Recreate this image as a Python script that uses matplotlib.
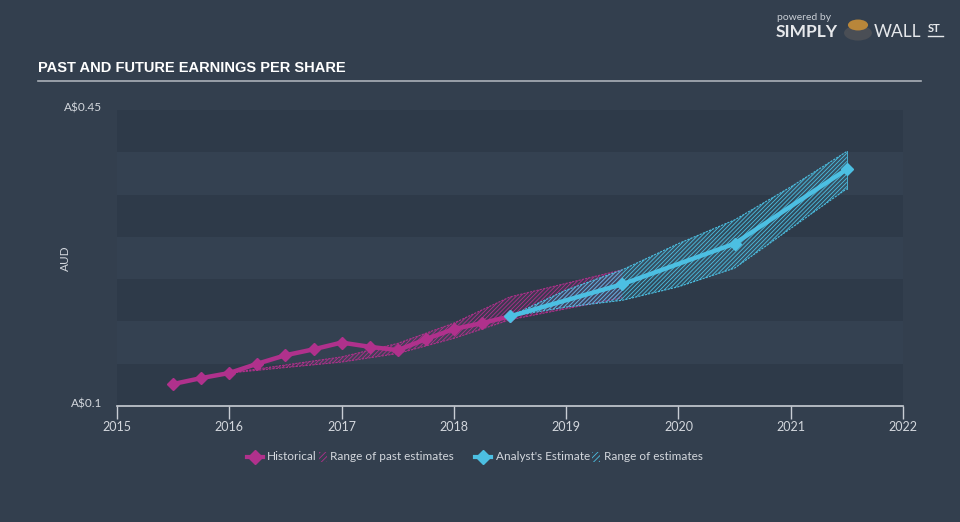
import matplotlib
matplotlib.use('Agg')
import matplotlib.pyplot as plt
from matplotlib.lines import Line2D
from matplotlib.patches import Rectangle, Circle

# historical EPS (A$)
hist_x = [2015.5, 2015.75, 2016.0, 2016.25, 2016.5, 2016.75, 2017.0, 2017.25,
          2017.5, 2017.75, 2018.0, 2018.25, 2018.5]
hist_y = [0.126, 0.133, 0.139, 0.150, 0.160, 0.167, 0.175, 0.170,
          0.166, 0.179, 0.191, 0.198, 0.206]

# range of past estimates
past_x = [2016.0, 2017.0, 2017.5, 2018.0, 2018.5, 2019.0, 2019.5]
past_lo = [0.139, 0.152, 0.162, 0.180, 0.202, 0.215, 0.228]
past_hi = [0.139, 0.158, 0.174, 0.198, 0.229, 0.245, 0.261]

# analyst estimate
est_x = [2018.5, 2019.5, 2020.5, 2021.5]
est_y = [0.206, 0.244, 0.292, 0.380]

# range of estimates
rng_x = [2018.5, 2019.0, 2019.5, 2020.0, 2020.5, 2021.0, 2021.5]
rng_lo = [0.206, 0.217, 0.225, 0.241, 0.263, 0.310, 0.357]
rng_hi = [0.206, 0.237, 0.261, 0.292, 0.320, 0.359, 0.401]

years = [2015, 2016, 2017, 2018, 2019, 2020, 2021, 2022]

BG = '#333f4e'
MAG = '#b0318c'
CYAN = '#4cbfe2'
TXT = '#d3d7dd'
SANS = ['Lato', 'DejaVu Sans']

plt.rcParams['font.family'] = SANS
plt.rcParams['hatch.linewidth'] = 0.6

fig = plt.figure(figsize=(9.6, 5.22), dpi=100, facecolor=BG)
ax = fig.add_axes([117 / 960, 116 / 522, 786 / 960, 296 / 522])
ax.set_facecolor('#344151')
ax.set_xlim(2015, 2022)
ax.set_ylim(0.1, 0.45)

# horizontal bands
for i in range(7):
    if i % 2 == 0:
        ax.axhspan(0.1 + i * 0.05, 0.15 + i * 0.05, color='#2e3a49', lw=0, zorder=0)

# past estimate band
ax.fill_between(past_x, past_lo, past_hi, facecolor=MAG, alpha=0.12, lw=0, zorder=1)
ax.fill_between(past_x, past_lo, past_hi, facecolor='none', edgecolor=MAG,
                hatch='////////', lw=0, zorder=1)
ax.plot(past_x, past_lo, color=MAG, lw=0.8, ls=(0, (2, 1)), zorder=1)
ax.plot(past_x, past_hi, color=MAG, lw=0.8, ls=(0, (2, 1)), zorder=1)

# estimate band
ax.fill_between(rng_x, rng_lo, rng_hi, facecolor=CYAN, alpha=0.12, lw=0, zorder=2)
ax.fill_between(rng_x, rng_lo, rng_hi, facecolor='none', edgecolor=CYAN,
                hatch='////////', lw=0, zorder=2)
ax.plot(rng_x, rng_lo, color=CYAN, lw=0.8, ls=(0, (2, 1)), zorder=2)
ax.plot(rng_x, rng_hi, color=CYAN, lw=0.8, ls=(0, (2, 1)), zorder=2)
ax.plot([rng_x[-1], rng_x[-1]], [rng_lo[-1], rng_hi[-1]], color=CYAN, lw=0.6, zorder=2)

ax.plot(hist_x, hist_y, color=MAG, lw=3.2, marker='D', ms=6.5, zorder=4)
ax.plot(est_x, est_y, color=CYAN, lw=3.2, marker='D', ms=6.5, zorder=5)

for s in ['top', 'right', 'left']:
    ax.spines[s].set_visible(False)
ax.spines['bottom'].set_color('#c8cdd4')
ax.spines['bottom'].set_linewidth(1.2)
ax.set_yticks([])
ax.set_xticks(years)
ax.set_xticklabels([str(y) for y in years], fontsize=9, color=TXT)
ax.tick_params(axis='x', length=9, width=1, color='#c8cdd4', pad=2)

# y labels
fig.text(102 / 960, 1 - 108 / 522, 'A$0.45', ha='right', va='center', fontsize=8.5, color=TXT)
fig.text(102 / 960, 1 - 404 / 522, 'A$0.1', ha='right', va='center', fontsize=8.5, color=TXT)
fig.text(65 / 960, 1 - 258 / 522, 'AUD', rotation=90, ha='center', va='center', fontsize=8.5, color=TXT)

# title
fig.text(38 / 960, 1 - 68 / 522, 'PAST AND FUTURE EARNINGS PER SHARE',
         family=['Liberation Sans', 'DejaVu Sans'], fontweight='bold', fontsize=10.5,
         color='white', va='center')
fig.add_artist(Line2D([38 / 960, 921 / 960], [1 - 81 / 522, 1 - 81 / 522],
                      color='#aab0b8', lw=1.2))

# logo
fig.text(777 / 960, 1 - 17 / 522, 'powered by', fontsize=7.5, color='#c9ced5', va='center')
fig.text(776 / 960, 1 - 32 / 522, 'SIMPLY', fontsize=12.5, fontweight='bold', color='#e6e8eb', va='center')
fig.add_artist(Circle((858 / 960, 1 - 33 / 522), 0.0145, transform=fig.transFigure,
                      facecolor='#4a4e55', edgecolor='none'))
fig.add_artist(Circle((858 / 960, 1 - 25 / 522), 0.0105, transform=fig.transFigure,
                      facecolor='#b8863a', edgecolor='none'))
fig.text(874 / 960, 1 - 32 / 522, 'WALL', fontsize=12.5, color='#e6e8eb', va='center')
fig.text(928 / 960, 1 - 29 / 522, 'ST', fontsize=8, fontweight='bold', color='#e6e8eb', va='center')
fig.add_artist(Line2D([928 / 960, 943 / 960], [1 - 36 / 522, 1 - 36 / 522],
                      color='#e6e8eb', lw=1))

# legend
ly = 1 - 457 / 522
fig.add_artist(Line2D([247 / 960, 263 / 960], [ly, ly], color=MAG, lw=3))
fig.add_artist(Line2D([255 / 960], [ly], color=MAG, marker='D', ms=7))
fig.text(267 / 960, ly, 'Historical', fontsize=8.5, color=TXT, va='center')
fig.add_artist(Rectangle((319 / 960, ly - 0.01), 8 / 960, 0.02, transform=fig.transFigure,
                         facecolor='none', edgecolor=MAG, hatch='//////', lw=0))
fig.text(330 / 960, ly, 'Range of past estimates', fontsize=8.5, color=TXT, va='center')
fig.add_artist(Line2D([475 / 960, 491 / 960], [ly, ly], color=CYAN, lw=3))
fig.add_artist(Line2D([483 / 960], [ly], color=CYAN, marker='D', ms=7))
fig.text(496 / 960, ly, "Analyst's Estimate", fontsize=8.5, color=TXT, va='center')
fig.add_artist(Rectangle((592 / 960, ly - 0.01), 8 / 960, 0.02, transform=fig.transFigure,
                         facecolor='none', edgecolor=CYAN, hatch='//////', lw=0))
fig.text(604 / 960, ly, 'Range of estimates', fontsize=8.5, color=TXT, va='center')

fig.savefig('out.png', dpi=100, facecolor=BG)
